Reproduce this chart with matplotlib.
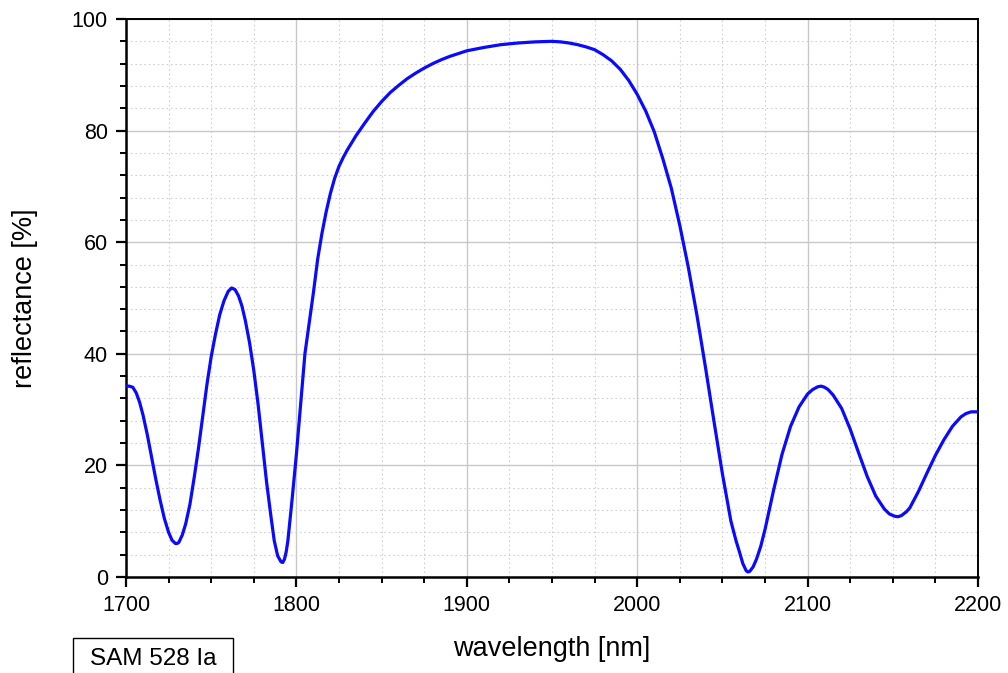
import matplotlib
matplotlib.use("Agg")
import matplotlib.pyplot as plt
from matplotlib.ticker import MultipleLocator
from matplotlib.patches import Rectangle

plt.rcParams['font.family'] = ['Liberation Sans', 'DejaVu Sans']

# wavelength [nm] and reflectance [%]
wavelength = [1700, 1702, 1704, 1706, 1708, 1710, 1712.5, 1715, 1717.5, 1720,
              1722.5, 1725, 1727, 1729, 1730, 1731, 1733, 1735, 1737.5, 1740,
              1742.5, 1745, 1747.5, 1750, 1752.5, 1755, 1757.5, 1760, 1762, 1764,
              1766, 1768, 1770, 1772.5, 1775, 1777.5, 1780, 1782.5, 1785, 1787,
              1789, 1791, 1792, 1793, 1794, 1795, 1797.5, 1800, 1802.5, 1805,
              1807.5, 1810, 1812.5, 1815, 1817.5, 1820, 1822.5, 1825, 1827.5, 1830,
              1835, 1840, 1845, 1850, 1855, 1860, 1865, 1870, 1875, 1880,
              1885, 1890, 1895, 1900, 1910, 1920, 1930, 1940, 1950, 1955,
              1960, 1965, 1970, 1975, 1980, 1985, 1990, 1995, 2000, 2005,
              2010, 2015, 2020, 2025, 2030, 2035, 2040, 2045, 2050, 2055,
              2058, 2060, 2062, 2064, 2065, 2066, 2068, 2070, 2072.5, 2075,
              2080, 2085, 2090, 2095, 2100, 2103, 2106, 2108, 2110, 2112,
              2115, 2120, 2125, 2130, 2135, 2140, 2145, 2148, 2151, 2153,
              2155, 2158, 2160, 2165, 2170, 2175, 2180, 2185, 2190, 2193,
              2196, 2200]
reflectance = [34.2, 34.2, 34.0, 33.0, 31.3, 29.0, 25.5, 21.5, 17.5, 13.8,
               10.5, 8.0, 6.6, 6.0, 6.0, 6.2, 7.5, 9.5, 13.0, 17.8,
               23.0, 28.8, 34.5, 39.5, 43.5, 47.0, 49.5, 51.2, 51.8, 51.5,
               50.4, 48.6, 46.0, 42.0, 37.0, 31.0, 24.0, 17.0, 11.0, 6.5,
               3.8, 2.7, 2.6, 3.2, 4.5, 6.5, 14.0, 22.0, 31.0, 40.0,
               45.5, 51.0, 57.0, 61.6, 65.5, 68.8, 71.5, 73.6, 75.2, 76.6,
               79.1, 81.3, 83.4, 85.2, 86.8, 88.1, 89.3, 90.3, 91.2, 92.0,
               92.7, 93.3, 93.8, 94.3, 94.9, 95.4, 95.7, 95.9, 96.0, 95.9,
               95.7, 95.4, 95.0, 94.5, 93.6, 92.5, 91.0, 89.0, 86.5, 83.5,
               79.8, 75.0, 69.7, 63.0, 55.5, 47.0, 37.7, 28.0, 18.5, 10.0,
               6.5, 4.5, 2.4, 1.1, 0.9, 1.0, 1.8, 3.2, 5.5, 8.5,
               15.5, 22.0, 27.0, 30.5, 32.8, 33.6, 34.1, 34.2, 34.0, 33.6,
               32.6, 30.2, 26.5, 22.2, 18.0, 14.5, 12.2, 11.3, 10.9, 10.8,
               11.0, 11.7, 12.4, 15.3, 18.6, 21.8, 24.6, 27.0, 28.7, 29.3,
               29.6, 29.6]
sample_name = "SAM 528 Ia"

fig = plt.figure(figsize=(10.08, 6.73), dpi=100)
ax = fig.add_axes([126/1008, 96/673, 852/1008, 558/673])

ax.plot(wavelength, reflectance, color='#0a0aff', lw=2.3, zorder=3,
        solid_joinstyle='round')

ax.set_xlim(1700, 2200)
ax.set_ylim(0, 100)
ax.xaxis.set_major_locator(MultipleLocator(100))
ax.xaxis.set_minor_locator(MultipleLocator(25))
ax.yaxis.set_major_locator(MultipleLocator(20))
ax.yaxis.set_minor_locator(MultipleLocator(4))

ax.grid(which='major', color='#c8c8c8', lw=1.0, ls='-')
ax.grid(which='minor', color='#d0d0d0', lw=0.8, ls=(0, (1.5, 2.5)))
ax.set_axisbelow(True)

for side in ['left', 'bottom']:
    ax.spines[side].set_linewidth(1.8)
for side in ['top', 'right']:
    ax.spines[side].set_linewidth(1.4)

ax.tick_params(which='major', direction='out', length=7, width=1.6,
               labelsize=15.5, pad=6)
ax.tick_params(which='minor', direction='out', length=4.5, width=1.4)

ax.set_xlabel("wavelength [nm]", fontsize=19.5, labelpad=14)
ax.set_ylabel("reflectance [%]", fontsize=19.5, labelpad=24)

# sample label box at the lower left, cut by the figure edge
fig.patches.append(Rectangle((73/1008, -10/673), 160/1008, 45/673,
                             transform=fig.transFigure, fill=False,
                             ec='black', lw=1.0))
fig.text(153/1008, 14/673, sample_name, ha='center', va='center', fontsize=17.5)

fig.savefig("out.png", dpi=100)
